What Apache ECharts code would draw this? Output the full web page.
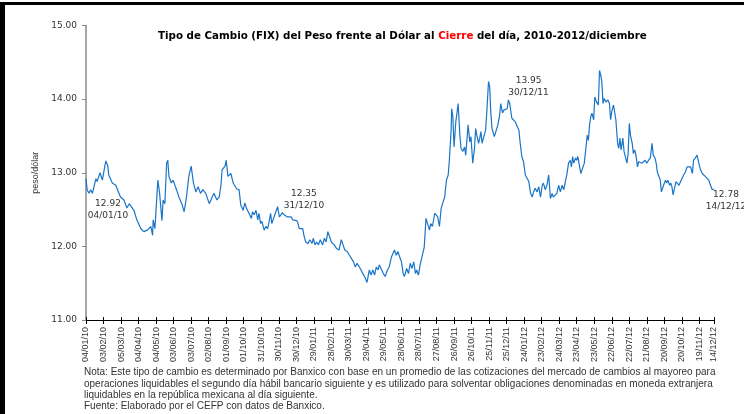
<!DOCTYPE html>
<html>
<head>
<meta charset="utf-8">
<script src="https://cdn.jsdelivr.net/npm/echarts@6/dist/echarts.min.js"></script>
<style>
  html, body { margin: 0; padding: 0; background: #fff; }
  #marco { position: absolute; left: 0; top: 2px; width: 760px; height: 430px; border-top: 3px solid #000; border-left: 5px solid #000; }
  #chart { position: absolute; left: 0; top: 0; width: 744px; height: 414px; }
</style>
</head>
<body>
<div id="marco"></div>
<div id="chart"></div>
<script>
// dias transcurridos desde el 04/01/2010
var dias = [0,2,5,8,11,17,19,24,28,32,34,37,39,45,51,54,59,65,70,74,77,82,87,94,99,105,108,111,114,115,118,123,126,130,132,135,138,140,142,146,149,152,155,159,164,168,172,176,180,184,188,192,196,200,205,211,215,219,224,228,231,233,238,240,243,248,252,258,262,265,269,272,275,279,
  283,285,288,291,294,296,299,301,305,308,311,314,316,318,322,325,328,331,334,336,339,342,345,348,351,354,357,361,363,365,368,371,373,376,380,383,387,389,392,395,398,401,405,408,411,414,416,420,422,425,429,433,437,440,443,447,451,454,458,461,464,468,471,474,478,481,485,488,491,494,497,500,502,505,509,512,516,519,523,525,528,531,534,536,540,543,545,
  549,552,555,558,561,564,566,569,572,575,579,582,585,588,590,593,597,600,602,605,608,611,614,617,620,622,625,626,628,630,633,635,637,640,642,645,648,650,652,654,657,659,662,665,667,669,672,674,676,678,681,684,686,689,691,693,695,699,702,705,708,710,713,715,718,721,723,725,729,732,735,738,741,743,746,749,752,755,758,761,764,766,769,772,775,778,781,783,786,789,792,795,798,800,803,806,809,812,
  815,818,821,823,826,829,831,833,835,838,840,842,845,847,850,853,855,858,860,862,864,866,869,871,874,877,879,881,883,885,887,890,893,896,898,900,903,905,907,910,912,914,916,919,921,923,926,928,930,932,935,937,939,941,944,946,949,952,955,957,960,963,966,969,971,974,976,978,981,983,985,987,990,992,994,996,999,1001,1003,1005,1008,1010,1012,1015,1018,1020,1023,1026,1029,1032,1035,1038,1040,1043,1046,1049,1052,1055,1058,1060,1063,1066,1069,1072,1075];
// tipo de cambio FIX, pesos por dolar
var tipoCambio = [12.92,12.77,12.72,12.77,12.72,12.92,12.88,13.00,12.90,13.08,13.16,13.10,12.97,12.86,12.83,12.77,12.67,12.63,12.52,12.58,12.56,12.49,12.36,12.24,12.20,12.22,12.20,12.27,12.15,12.36,12.24,12.90,12.72,12.35,12.63,12.58,13.13,13.17,12.95,12.86,12.90,12.92,12.77,12.67,12.58,12.47,12.67,12.95,13.09,12.86,12.74,12.81,12.72,12.77,12.72,12.58,12.65,12.72,12.63,12.67,12.83,13.04,13.09,13.17,12.95,12.99,12.86,12.78,12.77,12.56,12.49,12.59,12.51,12.45,
  12.38,12.47,12.43,12.49,12.36,12.45,12.31,12.34,12.22,12.27,12.24,12.36,12.45,12.31,12.40,12.47,12.54,12.40,12.43,12.46,12.43,12.45,12.40,12.38,12.40,12.36,12.37,12.35,12.31,12.24,12.22,12.24,12.15,12.06,12.04,12.09,12.04,12.11,12.02,12.06,12.02,12.09,12.02,12.11,12.06,12.20,12.18,12.06,12.06,12.02,11.97,11.95,12.09,12.02,11.95,11.93,11.88,11.84,11.79,11.72,11.77,11.72,11.72,11.63,11.57,11.51,11.68,11.61,11.68,11.61,11.72,11.68,11.75,11.70,11.63,11.59,11.68,11.72,11.86,11.84,11.95,11.88,11.93,11.88,11.79,11.63,11.59,
  11.70,11.63,11.77,11.70,11.79,11.63,11.68,11.61,11.75,11.77,11.99,12.38,12.36,12.22,12.31,12.27,12.45,12.47,12.40,12.27,12.52,12.54,12.67,12.90,12.97,13.17,13.58,13.87,13.76,13.35,13.69,13.81,13.94,13.51,13.33,13.29,13.35,13.24,13.44,13.65,13.42,13.49,13.13,13.33,13.60,13.51,13.40,13.47,13.56,13.40,13.49,13.58,13.81,14.24,14.17,13.81,13.60,13.49,13.51,13.65,13.78,13.94,13.81,13.85,13.83,13.87,13.99,13.95,13.74,13.74,13.69,13.63,13.58,13.42,13.22,13.15,12.97,12.99,12.88,12.72,12.67,12.74,12.79,12.74,12.81,12.67,12.83,12.86,12.77,12.83,12.97,12.65,12.72,12.67,12.67,12.72,12.83,12.74,
  12.83,12.77,12.90,12.97,13.13,13.17,13.08,13.22,13.13,13.20,13.17,13.22,13.08,12.99,12.97,13.13,13.15,13.51,13.44,13.65,13.76,13.81,13.72,14.03,13.96,13.92,14.39,14.33,14.24,13.94,14.01,13.96,13.99,13.94,13.72,13.83,13.92,13.94,13.72,13.40,13.33,13.47,13.31,13.47,13.29,13.31,13.13,13.26,13.67,13.51,13.40,13.26,13.31,13.26,13.08,13.15,13.17,13.13,13.15,13.17,13.13,13.17,13.20,13.40,13.24,13.20,13.13,13.01,13.01,12.90,12.74,12.74,12.86,12.90,12.86,12.90,12.83,12.86,12.81,12.70,12.81,12.88,12.86,12.83,12.81,12.92,12.97,13.01,13.08,13.06,13.08,12.99,13.17,13.20,13.24,13.13,13.04,12.99,12.99,12.95,12.95,12.90,12.83,12.77,12.78];

// etiquetas de datos
var anotDias = [0, 361, 725, 1075];
var anotValores = [12.92, 12.35, 13.95, 12.78];
var anotFechas = ['04/01/10', '31/12/10', '30/12/11', '14/12/12'];
var anotOffset = [[22, 31], [7, -21], [19, -16], [12, 12]];

var notas = [
  'Nota: Este tipo de cambio es determinado por Banxico con base en un promedio de las cotizaciones del mercado de cambios al mayoreo para',
  'operaciones liquidables el segundo día hábil bancario siguiente y es utilizado para solventar obligaciones denominadas en moneda extranjera',
  'liquidables en la república mexicana al día siguiente.',
  'Fuente: Elaborado por el CEFP con datos de Banxico.'
];

var inicio = Date.UTC(2010, 0, 4);
function fecha(d) {
  var f = new Date(inicio + d * 86400000);
  var dd = ('0' + f.getUTCDate()).slice(-2);
  var mm = ('0' + (f.getUTCMonth() + 1)).slice(-2);
  var yy = ('' + f.getUTCFullYear()).slice(-2);
  return dd + '/' + mm + '/' + yy;
}

var puntos = dias.map(function (d, i) { return [d, tipoCambio[i]]; });
var marcas = anotDias.map(function (d, i) {
  return {
    coord: [d, anotValores[i]],
    label: { offset: anotOffset[i], formatter: anotValores[i].toFixed(2) + '\n' + anotFechas[i] }
  };
});

var textos = notas.map(function (t, i) {
  return {
    type: 'text', left: 84, top: 367.5 + i * 11.3,
    style: { text: t, font: '10px "Liberation Sans"', fill: '#333' }
  };
});

var chart = echarts.init(document.getElementById('chart'), null, { renderer: 'canvas' });
var option = {
  animation: false,
  title: {
    left: 153, top: 26,
    text: '{a|Tipo de Cambio (FIX) del Peso frente al Dólar al }{r|Cierre}{a| del día, 2010-2012/diciembre}',
    textStyle: {
      rich: {
        a: { fontFamily: 'DejaVu Sans', fontWeight: 'bold', fontSize: 10.3, color: '#000' },
        r: { fontFamily: 'DejaVu Sans', fontWeight: 'bold', fontSize: 10.3, color: '#ff0000' }
      }
    }
  },
  grid: { left: 86, top: 25.5, width: 628, height: 294.5 },
  xAxis: [{
    type: 'value', min: 0, max: 1075, interval: 30,
    splitLine: { show: false },
    axisLine: { lineStyle: { color: '#000', width: 1 } },
    axisTick: { length: 4, lineStyle: { color: '#000' } },
    axisLabel: {
      rotate: 90, margin: 7, fontSize: 9, fontFamily: 'Liberation Sans', color: '#333',
      showMaxLabel: true, formatter: function (v) { return fecha(v); }
    }
  }, {
    type: 'value', min: 0, max: 1075, interval: 30, position: 'bottom',
    splitLine: { show: false }, axisLine: { show: false },
    axisTick: { inside: true, length: 3, lineStyle: { color: '#000' } },
    axisLabel: { show: false }
  }],
  yAxis: {
    type: 'value', min: 11, max: 15, interval: 1,
    name: 'peso/dólar', nameLocation: 'middle', nameGap: 40, nameRotate: 90,
    nameTextStyle: { fontSize: 9, fontFamily: 'Liberation Sans', color: '#333' },
    splitLine: { show: false },
    axisLine: { show: true, lineStyle: { color: '#888', width: 1.5 } },
    axisTick: { show: true, length: 4, lineStyle: { color: '#888' } },
    axisLabel: { fontSize: 9, fontFamily: 'DejaVu Sans', color: '#333', margin: 9,
      formatter: function (v) { return v.toFixed(2); } }
  },
  series: [{
    type: 'line', data: puntos, showSymbol: false,
    lineStyle: { color: '#1a75c8', width: 1.2 },
    markPoint: {
      symbol: 'circle', symbolSize: 0,
      label: { show: true, fontSize: 9, fontFamily: 'DejaVu Sans', color: '#333', lineHeight: 12 },
      data: marcas
    }
  }],
  graphic: textos
};
chart.setOption(option);
</script>
</body>
</html>
